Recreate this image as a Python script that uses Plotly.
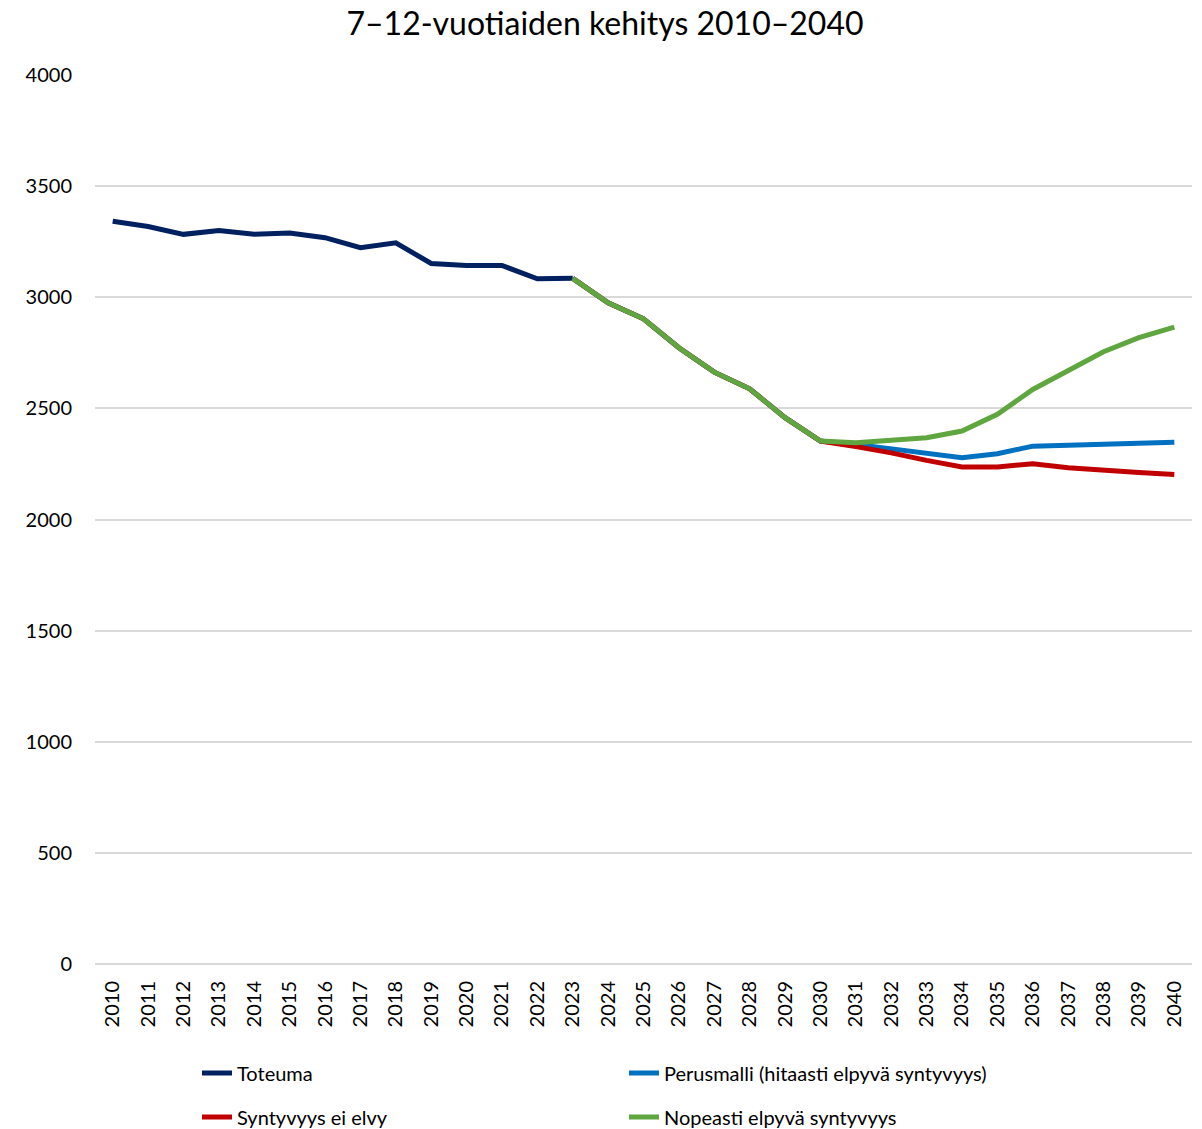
import plotly.graph_objects as go

years = [str(y) for y in range(2010, 2041)]

toteuma = [3342, 3318, 3283, 3300, 3283, 3289, 3268, 3223, 3245, 3152,
           3143, 3143, 3083, 3085]
# scenarios start from 2023
perusmalli = [3085, 2975, 2903, 2773, 2663, 2588, 2458, 2353, 2338, 2318,
              2297, 2278, 2296, 2330, 2334, 2338, 2344, 2348]
ei_elvy = [3085, 2975, 2903, 2773, 2663, 2588, 2458, 2353, 2328, 2300,
           2266, 2236, 2236, 2251, 2233, 2221, 2211, 2203]
nopeasti = [3085, 2975, 2903, 2773, 2663, 2588, 2458, 2353, 2345, 2354,
            2368, 2398, 2473, 2585, 2668, 2755, 2818, 2866]

fnt = "Lato"
W, H = 1194, 1121  # page has an 8px body offset

fig = go.Figure()
fig.add_trace(go.Scatter(x=years[:14], y=toteuma, mode="lines", name="Toteuma",
                         line=dict(color="#002060", width=5), legend="legend"))
fig.add_trace(go.Scatter(x=years[13:], y=perusmalli, mode="lines",
                         name="Perusmalli (hitaasti elpyvä syntyvyys)",
                         line=dict(color="#0070C0", width=5), legend="legend"))
fig.add_trace(go.Scatter(x=years[13:], y=ei_elvy, mode="lines", name="Syntyvyys ei elvy",
                         line=dict(color="#C00000", width=5), legend="legend2"))
fig.add_trace(go.Scatter(x=years[13:], y=nopeasti, mode="lines", name="Nopeasti elpyvä syntyvyys",
                         line=dict(color="#5FA640", width=5), legend="legend2"))

leg = dict(orientation="h", x=189 / W, xref="container", xanchor="left",
           yref="container", yanchor="middle",
           entrywidth=382, entrywidthmode="pixels",
           font=dict(family=fnt, size=20, color="#000000"), bgcolor="rgba(0,0,0,0)")

fig.update_layout(
    width=W, height=H,
    margin=dict(l=87, r=10, t=67, b=165, autoexpand=False),
    plot_bgcolor="white", paper_bgcolor="white",
    font=dict(family=fnt, color="#000000"),
    title=dict(text="7–12-vuotiaiden kehitys 2010–2040", x=0.5, xanchor="center",
               yref="container", y=1 - 16 / H, yanchor="middle",
               font=dict(family=fnt, size=32, color="#000000")),
    xaxis=dict(type="category", categoryorder="array", categoryarray=years,
               range=[-0.5, 30.5], automargin=False,
               tickangle=-90, tickfont=dict(family=fnt, size=20), showgrid=False,
               showline=False, ticks="", zeroline=False, ticklabelstandoff=12),
    yaxis=dict(range=[0, 4000], dtick=500, showgrid=True, gridcolor="#D9D9D9", gridwidth=1.5,
               zeroline=True, zerolinecolor="#D9D9D9", zerolinewidth=1.5, automargin=False,
               tickfont=dict(family=fnt, size=20), ticks="", ticklabelstandoff=22),
    legend=dict(leg, y=1 - 1065 / H),
    legend2=dict(leg, y=1 - 1109 / H),
)

fig.write_html("out.html")
